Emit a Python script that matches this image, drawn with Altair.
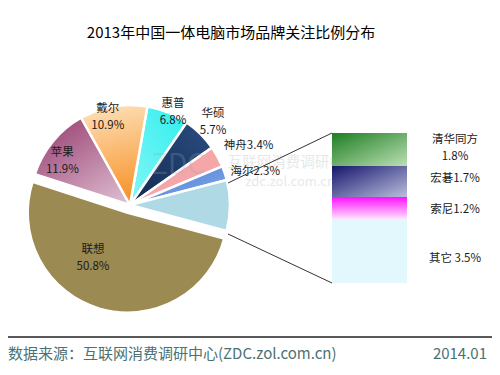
import math
import altair as alt
import pandas as pd

# ---- data ----
pie_brands = ["惠普", "华硕", "神舟", "海尔", "其它", "联想", "苹果", "戴尔"]
pie_values = [6.8, 5.7, 3.4, 2.3, 8.2, 50.8, 11.9, 10.9]
pie_labels = ["惠普\n6.8%", "华硕\n5.7%", "神舟3.4%", "海尔2.3%", "", "联想\n50.8%", "苹果\n11.9%", "戴尔\n10.9%"]

bar_brands = ["清华同方", "宏碁", "索尼", "其它"]
bar_values = [1.8, 1.7, 1.2, 3.5]
bar_labels = ["清华同方\n1.8%", "宏碁1.7%", "索尼1.2%", "其它 3.5%"]

title_text = "2013年中国一体电脑市场品牌关注比例分布"
source_text = "数据来源：互联网消费调研中心(ZDC.zol.com.cn)"
date_text = "2014.01"
watermark_texts = ["ZDC", "互联网消费调研中心", "zdc.zol.com.cn"]

# ---- layout / style ----
W, H = 484, 359
CX, CY = 122, 197
R = 100
EXPLODE = {"联想": (-2.3, 7.7)}
START = math.radians(10)
FONT = "Noto Sans CJK SC"
theta_scale = alt.Scale(domain=[0, 100], range=[START, START + 2 * math.pi])


def grad(c0, c1, x1=0, y1=0, x2=0, y2=1):
    return alt.Gradient(
        gradient="linear", x1=x1, y1=y1, x2=x2, y2=y2,
        stops=[alt.GradientStop(color=c0, offset=0), alt.GradientStop(color=c1, offset=1)],
    )


PIE_FILL = {
    "惠普": grad("#2EEEEE", "#86F6F6", 1, 0, 0, 1),
    "华硕": grad("#2C4D80", "#112A52", 1, 0, 0, 1),
    "神舟": "#F5A6A9",
    "海尔": grad("#4A7CD4", "#86ABEA", 0, 0, 1, 1),
    "其它": "#AED9E5",
    "联想": "#9B8B53",
    "苹果": grad("#9A4474", "#DDBCD0", 0.2, 0, 0.9, 1),
    "戴尔": grad("#FEE3BE", "#F7942C", 0, 0, 0.15, 1),
}
BAR_FILL = {
    "清华同方": grad("#1E7E22", "#BBDFB4", 0, 0, 1, 1),
    "宏碁": grad("#15156C", "#BABEDD", 0, 0, 1, 1),
    "索尼": grad("#FF10FF", "#FFE2FF", 0, 0, 0, 1),
    "其它": "#E2F8FC",
}
# radius, dx, dy for pie labels
PIE_LABEL_POS = {
    "惠普": (103, 4, -6),
    "华硕": (118, 0, -7),
    "神舟": (132, 3, 5),
    "海尔": (130, 2, 9),
    "联想": (60, -20, -13),
    "苹果": (81, -5, -1),
    "戴尔": (91, -7, -6),
}
BAR_LABEL_DY = {"清华同方": -9, "宏碁": -2, "索尼": 2, "其它": 8}
BAR_X0, BAR_X1 = 324, 399
BAR_LABEL_X = 447
WATERMARK_POS = [(170, 158, 28), (285, 155, 14.5), (282, 174, 13)]

# ---- pie ----
pie_df = pd.DataFrame({
    "brand": pie_brands, "value": pie_values, "label": pie_labels,
    "order": list(range(len(pie_brands))),
})
pie_base = alt.Chart(pie_df).transform_window(
    cum="sum(value)", sort=[alt.SortField("order")]
).transform_calculate(
    start="datum.cum - datum.value", mid="datum.cum - datum.value / 2"
)

layers = []
for b in pie_brands:
    ox, oy = EXPLODE.get(b, (0, 0))
    layers.append(
        pie_base.transform_filter(alt.datum.brand == b)
        .mark_arc(outerRadius=R, fill=PIE_FILL[b], stroke="white", strokeWidth=2.5)
        .encode(
            theta=alt.Theta("start:Q", scale=theta_scale),
            theta2=alt.Theta2("cum:Q"),
            x=alt.value(CX + ox), y=alt.value(CY + oy),
        )
    )

# ---- watermark ----
wm_df = pd.DataFrame({"t": watermark_texts})
for txt, (xx, yy, fs) in zip(watermark_texts, WATERMARK_POS):
    layers.append(
        alt.Chart(wm_df).transform_filter(alt.datum.t == txt)
        .mark_text(font=FONT, fontSize=fs, color="#9AA8B0", opacity=0.25, align="center", baseline="middle")
        .encode(text="t:N", x=alt.value(xx), y=alt.value(yy))
    )

for b, lab in zip(pie_brands, pie_labels):
    if not lab:
        continue
    r, dx, dy = PIE_LABEL_POS[b]
    layers.append(
        pie_base.transform_filter(alt.datum.brand == b)
        .mark_text(radius=r, dx=dx, dy=dy, lineBreak="\n", lineHeight=17, font=FONT,
                   fontSize=11.5, color="#1A1A1A", align="center", baseline="middle")
        .encode(
            theta=alt.Theta("mid:Q", scale=theta_scale, stack=False),
            text="label:N",
            x=alt.value(CX), y=alt.value(CY),
        )
    )

# ---- bar of pie ----
bar_df = pd.DataFrame({
    "brand": bar_brands, "value": bar_values, "label": bar_labels,
    "order": list(range(len(bar_brands))),
})
bar_base = alt.Chart(bar_df).transform_window(
    cum="sum(value)", sort=[alt.SortField("order", order="descending")]
).transform_calculate(
    start="datum.cum - datum.value", mid="datum.cum - datum.value / 2"
)
y_scale = alt.Scale(nice=False, zero=True, range=[275, 125])

for b in bar_brands:
    layers.append(
        bar_base.transform_filter(alt.datum.brand == b)
        .mark_rect(fill=BAR_FILL[b])
        .encode(
            y=alt.Y("start:Q", scale=y_scale, axis=None),
            y2=alt.Y2("cum:Q"),
            x=alt.value(BAR_X0), x2=alt.value(BAR_X1),
        )
    )
for b in bar_brands:
    layers.append(
        bar_base.transform_filter(alt.datum.brand == b)
        .mark_text(lineBreak="\n", lineHeight=17, font=FONT, fontSize=11.5, color="#1A1A1A",
                   align="center", baseline="middle", dy=BAR_LABEL_DY[b])
        .encode(
            y=alt.Y("mid:Q", scale=y_scale, axis=None),
            text="label:N",
            x=alt.value(BAR_LABEL_X),
        )
    )

# ---- connector lines ----
one = pd.DataFrame({"k": [0]})
for (x1, y1, x2, y2) in [(BAR_X0, 125, 220, 175), (BAR_X0, 275, 220, 226)]:
    layers.append(
        alt.Chart(one).mark_rule(color="#333333", strokeWidth=1)
        .encode(x=alt.value(x1), y=alt.value(y1), x2=alt.value(x2), y2=alt.value(y2))
    )

# ---- title and footer ----
txt_df = pd.DataFrame({"t": [title_text, source_text, date_text]})
layers.append(
    alt.Chart(txt_df).transform_filter(alt.datum.t == title_text)
    .mark_text(font=FONT, fontSize=15, color="#000000", align="center", baseline="middle")
    .encode(text="t:N", x=alt.value(223), y=alt.value(25))
)
layers.append(
    alt.Chart(one).mark_rule(color="#222222", strokeWidth=1.5)
    .encode(x=alt.value(-2), x2=alt.value(W + 2), y=alt.value(329))
)
layers.append(
    alt.Chart(txt_df).transform_filter(alt.datum.t == source_text)
    .mark_text(font=FONT, fontSize=15, color="#4A7272", align="left", baseline="middle")
    .encode(text="t:N", x=alt.value(0), y=alt.value(346))
)
layers.append(
    alt.Chart(txt_df).transform_filter(alt.datum.t == date_text)
    .mark_text(font=FONT, fontSize=15, color="#4A7272", align="right", baseline="middle")
    .encode(text="t:N", x=alt.value(479), y=alt.value(346))
)

chart = alt.layer(*layers).properties(
    width=W, height=H, padding=0, autosize=alt.AutoSizeParams(type="none"), background="white"
).configure_view(stroke=None)

chart.save("out.html", embed_options={"renderer": "svg", "actions": False})
